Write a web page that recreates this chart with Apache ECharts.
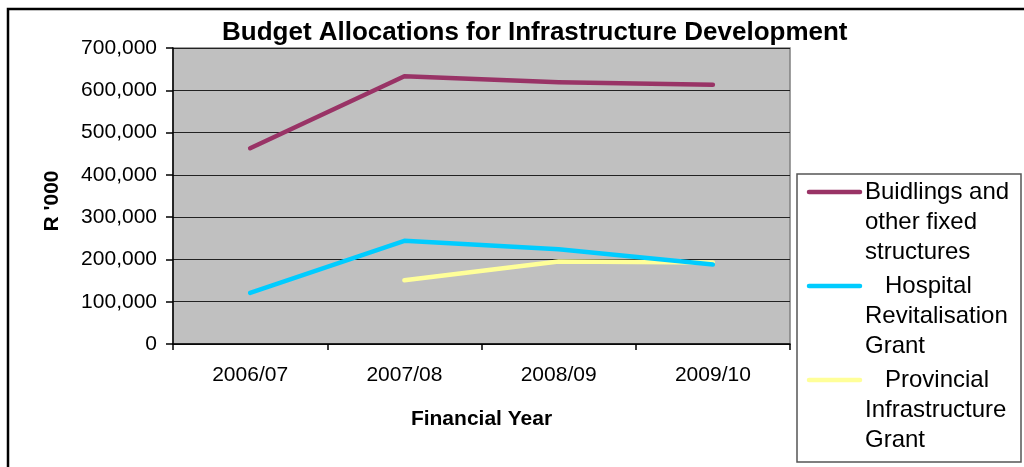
<!DOCTYPE html>
<html>
<head>
<meta charset="utf-8">
<script src="https://cdn.jsdelivr.net/npm/echarts@6/dist/echarts.min.js"></script>
<style>html,body{margin:0;padding:0;background:#fff;}#c{width:1024px;height:467px;}</style>
</head>
<body>
<div id="c"></div>
<script>
const titleText = 'Budget Allocations for Infrastructure Development';
const categories = ['2006/07', '2007/08', '2008/09', '2009/10'];
const seriesNames = ['Buidlings and other fixed structures', 'Hospital Revitalisation Grant', 'Provincial Infrastructure Grant'];
const legendLabels = ['Buidlings and\nother fixed\nstructures', '   Hospital\nRevitalisation\nGrant', '   Provincial\nInfrastructure\nGrant'];
const buildings = [463000, 633000, 619000, 613000];
const hospital = [121000, 244000, 224000, 188000];
const provincial = [null, 151000, 195000, 193000];
const yTicks = [0, 100000, 200000, 300000, 400000, 500000, 600000, 700000];
const colors = ['#993366', '#00CCFF', '#FFFF99'];
const seriesData = [buildings, hospital, provincial];

const FONT = 'Liberation Sans, Arial, sans-serif';
const chart = echarts.init(document.getElementById('c'), null, {renderer: 'canvas'});

// legend drawn as graphic elements, built from the names/colours
const legendGraphics = [{
  type: 'rect', shape: {x: 797, y: 174, width: 224, height: 288},
  style: {fill: '#fff', stroke: '#555', lineWidth: 1.5}, z: 10
}];
legendLabels.forEach((lab, i) => {
  const y = 192 + i * 94;
  legendGraphics.push({
    type: 'line', shape: {x1: 809, y1: y, x2: 860, y2: y},
    style: {stroke: colors[i], lineWidth: 4.5, lineCap: 'round'}, z: 11
  });
  legendGraphics.push({
    type: 'text', x: 865, y: y - 15,
    style: {text: lab, font: '24px ' + FONT, fill: '#000', lineHeight: 30, textVerticalAlign: 'top'}, z: 11
  });
});

const option = {
  animation: false,
  backgroundColor: '#fff',
  title: {
    text: titleText, left: 217, top: 15,
    textStyle: {fontFamily: FONT, fontSize: 26, fontWeight: 'bold', color: '#000'}
  },
  grid: {
    left: 173, right: 234, top: 48, bottom: 123,
    show: true, backgroundColor: '#C0C0C0', borderColor: '#808080', borderWidth: 1.5
  },
  xAxis: {
    type: 'category', data: categories, boundaryGap: true,
    name: 'Financial Year', nameLocation: 'middle', nameGap: 65,
    nameTextStyle: {fontFamily: FONT, fontSize: 21, fontWeight: 'bold', color: '#000'},
    axisLine: {lineStyle: {color: '#000', width: 1.5}},
    axisTick: {show: true, length: 6, alignWithLabel: false, lineStyle: {color: '#000', width: 1.5}},
    axisLabel: {fontFamily: FONT, fontSize: 21, color: '#000', margin: 21},
    splitLine: {show: false}
  },
  yAxis: {
    type: 'value', min: 0, max: 700000, interval: 100000,
    name: "R '000", nameLocation: 'middle', nameGap: 110, nameRotate: 90,
    nameTextStyle: {fontFamily: FONT, fontSize: 21, fontWeight: 'bold', color: '#000', padding: [0, 10, 0, 0]},
    axisLine: {show: true, lineStyle: {color: '#000', width: 1.5}},
    axisTick: {show: true, length: 7, lineStyle: {color: '#000', width: 1.5}},
    axisLabel: {
      fontFamily: FONT, fontSize: 21, color: '#000', margin: 16,
      formatter: v => yTicks.includes(v) ? v.toLocaleString('en-US') : ''
    },
    splitLine: {show: true, lineStyle: {color: '#222', width: 1.2}}
  },
  series: seriesData.map((d, i) => ({
    name: seriesNames[i], type: 'line', data: d,
    symbol: 'none', connectNulls: false,
    lineStyle: {color: colors[i], width: 4.5, cap: 'round', join: 'round'},
    itemStyle: {color: colors[i]}, z: 3 + (2 - i)
  })),
  graphic: [{
    type: 'rect', shape: {x: 8, y: 9, width: 1040, height: 520},
    style: {fill: 'none', stroke: '#000', lineWidth: 2.5}, z: 20, silent: true
  }].concat(legendGraphics)
};
chart.setOption(option);
</script>
</body>
</html>
